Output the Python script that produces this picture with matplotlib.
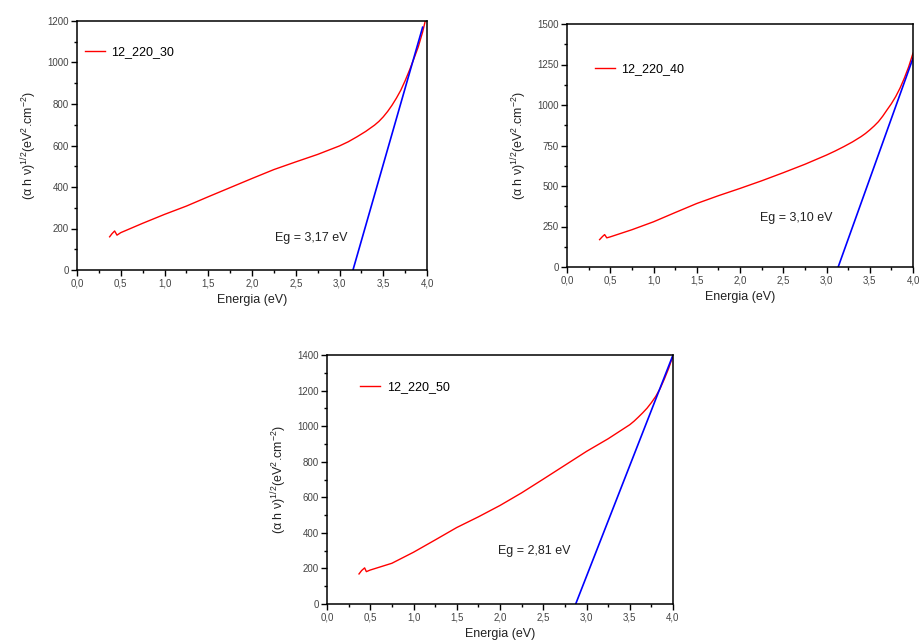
import matplotlib
matplotlib.use("Agg")
import matplotlib.pyplot as plt
from matplotlib.ticker import MultipleLocator, FuncFormatter

plt.rcParams['font.family'] = ['Liberation Sans', 'DejaVu Sans']
plt.rcParams['mathtext.default'] = 'regular'

# ---- data ----
labels = ["12_220_30", "12_220_40", "12_220_50"]
eg_texts = ["Eg = 3,17 eV", "Eg = 3,10 eV", "Eg = 2,81 eV"]

x1 = [0.373, 0.40, 0.43, 0.457, 0.5, 0.75, 1.0, 1.25, 1.5, 1.75, 2.0, 2.25, 2.5, 2.75, 3.0, 3.1, 3.2, 3.3, 3.4, 3.45, 3.5, 3.55, 3.6, 3.65, 3.7, 3.75, 3.8, 3.85, 3.9, 3.95, 3.98]
y1 = [160, 175, 188, 168, 180, 225, 268, 308, 353, 397, 441, 484, 521, 557, 598, 618, 642, 668, 698, 716, 738, 764, 794, 828, 866, 912, 963, 1018, 1075, 1147, 1200]
fit1_x = [3.154, 3.95]
fit1_y = [0, 1170]

x2 = [0.377, 0.41, 0.435, 0.46, 0.5, 0.75, 1.0, 1.25, 1.5, 1.75, 2.0, 2.25, 2.5, 2.75, 3.0, 3.1, 3.2, 3.3, 3.4, 3.45, 3.5, 3.55, 3.6, 3.65, 3.7, 3.75, 3.8, 3.85, 3.9, 3.95, 4.0]
y2 = [169, 188, 200, 180, 186, 230, 279, 336, 392, 440, 485, 532, 582, 634, 691, 716, 743, 772, 805, 824, 846, 870, 897, 931, 970, 1008, 1052, 1104, 1166, 1236, 1320]
fit2_x = [3.135, 4.0]
fit2_y = [0, 1289]

x3 = [0.37, 0.40, 0.435, 0.455, 0.5, 0.75, 1.0, 1.25, 1.5, 1.75, 2.0, 2.25, 2.5, 2.75, 3.0, 3.25, 3.5, 3.55, 3.6, 3.65, 3.7, 3.75, 3.8, 3.85, 3.9, 3.95, 4.0]
y3 = [169, 188, 203, 182, 191, 229, 291, 360, 430, 490, 554, 625, 702, 780, 858, 929, 1008, 1028, 1051, 1075, 1101, 1132, 1167, 1210, 1265, 1325, 1396]
fit3_x = [2.875, 4.0]
fit3_y = [0, 1400]

xs = [x1, x2, x3]
ys = [y1, y2, y3]
fits_x = [fit1_x, fit2_x, fit3_x]
fits_y = [fit1_y, fit2_y, fit3_y]
ymaxs = [1200, 1500, 1400]
ymajor = [200, 250, 200]
eg_pos = [(2.26, 154), (2.23, 302), (1.98, 298)]
leg_pos = [(0.0, 0.93), (0.06, 0.87), (0.075, 0.925)]

# ---- layout ----
fig = plt.figure(figsize=(9.22, 6.40), dpi=100)
rects = [
    [77/922, 1 - 270/640, 350/922, 249/640],
    [567/922, 1 - 267/640, 346/922, 243/640],
    [327/922, 1 - 604/640, 346/922, 249/640],
]

comma = FuncFormatter(lambda v, p: f"{v:.1f}".replace(".", ","))
tick_color = '#444444'

for i in range(3):
    ax = fig.add_axes(rects[i])
    ax.plot(xs[i], ys[i], color='red', lw=1.0, label=labels[i])
    ax.plot(fits_x[i], fits_y[i], color='blue', lw=1.2)
    ax.set_xlim(0, 4.0)
    ax.set_ylim(0, ymaxs[i])
    ax.xaxis.set_major_locator(MultipleLocator(0.5))
    ax.xaxis.set_minor_locator(MultipleLocator(0.25))
    ax.yaxis.set_major_locator(MultipleLocator(ymajor[i]))
    ax.yaxis.set_minor_locator(MultipleLocator(ymajor[i] / 2))
    ax.xaxis.set_major_formatter(comma)
    ax.tick_params(which='both', direction='out', top=False, right=False,
                   colors='black', labelcolor=tick_color, labelsize=7, width=1)
    ax.tick_params(which='major', length=4, pad=2)
    ax.tick_params(which='minor', length=2.5)
    for s in ax.spines.values():
        s.set_linewidth(1.1)
    ax.set_xlabel("Energia (eV)", fontsize=9, color='#222222', labelpad=4)
    ax.set_ylabel(r"(α h ν)$^{1/2}$(eV$^{2}$.cm$^{-2}$)", fontsize=9, color='#222222', labelpad=6)
    ax.text(eg_pos[i][0], eg_pos[i][1], eg_texts[i], fontsize=9, color='#222222',
            ha='left', va='center')
    ax.legend(loc='upper left', bbox_to_anchor=leg_pos[i], frameon=False,
              fontsize=9, handlelength=1.6, handletextpad=0.5, borderaxespad=0.2)

fig.savefig("out.png", dpi=100)
